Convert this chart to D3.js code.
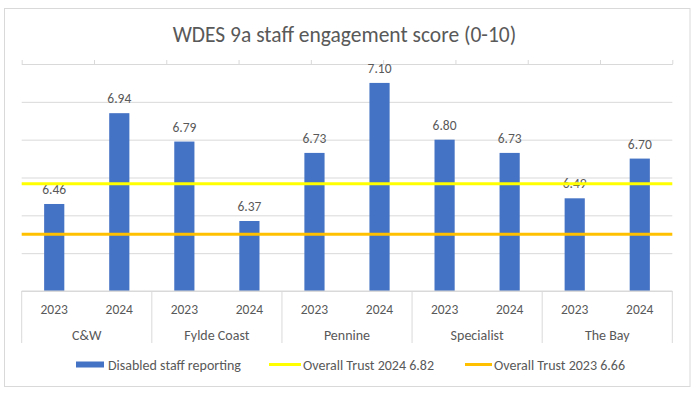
<!DOCTYPE html>
<html>
<head>
<meta charset="utf-8">
<script src="https://cdn.jsdelivr.net/npm/d3@7"></script>
<style>
  body { margin: 0; background: #fff; }
  svg text { font-family: Carlito, Calibri, Lato, sans-serif; fill: #595959; }
</style>
</head>
<body>
<svg id="chart" width="700" height="396"></svg>
<script>
// data
const categories = ['C&W', 'Fylde Coast', 'Pennine', 'Specialist', 'The Bay'];
const years = ['2023', '2024'];
const scores = [6.46, 6.94, 6.79, 6.37, 6.73, 7.10, 6.80, 6.73, 6.49, 6.70];
const trust2024 = [6.82, 6.82, 6.82, 6.82, 6.82, 6.82, 6.82, 6.82, 6.82, 6.82];
const trust2023 = [6.66, 6.66, 6.66, 6.66, 6.66, 6.66, 6.66, 6.66, 6.66, 6.66];
const yTicks = [6.0, 6.2, 6.4, 6.6, 6.8, 7.0, 7.2];
const seriesNames = ['Disabled staff reporting', 'Overall Trust 2024 6.82', 'Overall Trust 2023 6.66'];

const colors = { bar: '#4472C4', y24: '#FFFF00', y23: '#FFC000', grid: '#D9D9D9' };

const margin = { top: 64, left: 21.7, right: 672.3, bottom: 291 };

const svg = d3.select('#chart');

// chart area border
svg.append('rect')
  .attr('x', 4.5).attr('y', 8.5)
  .attr('width', 685.5).attr('height', 378)
  .attr('fill', '#fff')
  .attr('stroke', colors.grid);

// title
svg.append('text')
  .attr('x', 344.5).attr('y', 41.5)
  .attr('text-anchor', 'middle')
  .style('font-size', '21.5px')
  .text('WDES 9a staff engagement score (0-10)');

// one slot per bar
const slots = [];
categories.forEach(c => years.forEach(y => slots.push(c + '|' + y)));

const x = d3.scaleBand()
  .domain(slots)
  .range([margin.left, margin.right])
  .paddingInner(0.69)
  .paddingOuter(0.345);

const y = d3.scaleLinear()
  .domain([6.0, 7.2])
  .range([margin.bottom, margin.top]);

// lines sit on a hidden secondary axis
const y2 = d3.scaleLinear()
  .domain([6.48, 7.2])
  .range([margin.bottom, margin.top]);

const x2 = d3.scalePoint()
  .domain(d3.range(trust2024.length))
  .range([margin.left, margin.right]);

// gridlines
svg.append('g')
  .attr('transform', 'translate(' + margin.left + ',0)')
  .call(d3.axisLeft(y).tickValues(yTicks).tickSize(-(margin.right - margin.left)).tickFormat(''))
  .call(g => g.select('.domain').remove())
  .call(g => g.selectAll('.tick line').attr('stroke', colors.grid));

// secondary category axis at top (tick marks only)
svg.append('g')
  .attr('transform', 'translate(0,' + margin.top + ')')
  .call(d3.axisTop(x2).tickSize(4).tickSizeOuter(0).tickFormat(''))
  .call(g => g.select('.domain').attr('stroke', colors.grid))
  .call(g => g.selectAll('.tick line').attr('stroke', colors.grid));

// bars
svg.append('g')
  .selectAll('rect')
  .data(scores)
  .enter().append('rect')
  .attr('x', (d, i) => x(slots[i]))
  .attr('y', d => y(d))
  .attr('width', x.bandwidth())
  .attr('height', d => y(6.0) - y(d))
  .attr('fill', colors.bar);

// bar labels
svg.append('g')
  .selectAll('text')
  .data(scores)
  .enter().append('text')
  .attr('x', (d, i) => x(slots[i]) + x.bandwidth() / 2)
  .attr('y', d => y(d) - 10)
  .attr('text-anchor', 'middle')
  .style('font-size', '13.5px')
  .text(d => d.toFixed(2));

// trust lines
const line = d3.line().x((d, i) => x2(i)).y(d => y2(d));
svg.append('path')
  .datum(trust2024)
  .attr('d', line)
  .attr('fill', 'none')
  .attr('stroke', colors.y24)
  .attr('stroke-width', 3);
svg.append('path')
  .datum(trust2023)
  .attr('d', line)
  .attr('fill', 'none')
  .attr('stroke', colors.y23)
  .attr('stroke-width', 3);

// bottom axis: baseline, group separators, labels
const groupW = (margin.right - margin.left) / categories.length;
svg.append('line')
  .attr('x1', margin.left).attr('x2', margin.right)
  .attr('y1', margin.bottom).attr('y2', margin.bottom)
  .attr('stroke', colors.grid);

svg.append('g')
  .selectAll('line')
  .data(d3.range(categories.length + 1))
  .enter().append('line')
  .attr('x1', d => margin.left + d * groupW)
  .attr('x2', d => margin.left + d * groupW)
  .attr('y1', margin.bottom).attr('y2', 343)
  .attr('stroke', colors.grid);

svg.append('g')
  .selectAll('text')
  .data(slots)
  .enter().append('text')
  .attr('x', d => x(d) + x.bandwidth() / 2)
  .attr('y', 313.5)
  .attr('text-anchor', 'middle')
  .style('font-size', '13.5px')
  .text(d => d.split('|')[1]);

svg.append('g')
  .selectAll('text')
  .data(categories)
  .enter().append('text')
  .attr('x', (d, i) => margin.left + (i + 0.5) * groupW)
  .attr('y', 339.5)
  .attr('text-anchor', 'middle')
  .style('font-size', '14px')
  .text(d => d);

// legend
const legend = svg.append('g').style('font-size', '14px');
legend.append('rect')
  .attr('x', 76).attr('y', 361.5)
  .attr('width', 28).attr('height', 6)
  .attr('fill', colors.bar);
legend.append('text').attr('x', 108).attr('y', 369.5).text(seriesNames[0]);

legend.append('line')
  .attr('x1', 269).attr('x2', 301).attr('y1', 364.5).attr('y2', 364.5)
  .attr('stroke', colors.y24).attr('stroke-width', 3);
legend.append('text').attr('x', 303).attr('y', 369.5).text(seriesNames[1]);

legend.append('line')
  .attr('x1', 465).attr('x2', 492).attr('y1', 364.5).attr('y2', 364.5)
  .attr('stroke', colors.y23).attr('stroke-width', 3);
legend.append('text').attr('x', 494).attr('y', 369.5).text(seriesNames[2]);
</script>
</body>
</html>
